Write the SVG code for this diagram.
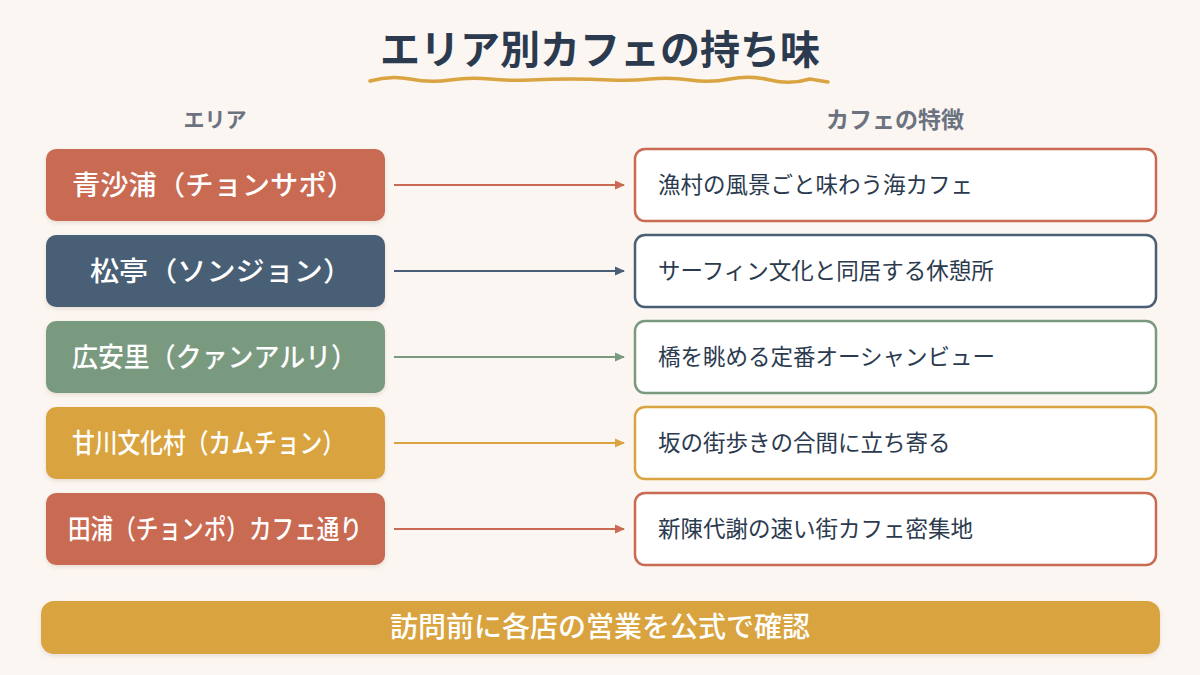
<svg xmlns="http://www.w3.org/2000/svg" width="1200" height="675" viewBox="0 0 1200 675">
<defs>
<style>
.t{font-family:"Noto Sans CJK JP","Noto Sans",sans-serif;}
.title{font-size:40px;font-weight:700;fill:#2B3A4E;}
.hdr{font-weight:700;fill:#6B7280;}
.lt{font-size:27px;font-weight:500;fill:#FFFFFF;}
.rt{font-size:22.5px;font-weight:400;fill:#2B3A4E;}
.ft{font-size:28px;font-weight:500;fill:#FFFFFF;}
.rbox{fill:#FFFFFF;stroke-width:2.5;}
.conn{stroke-width:2;fill:none;}
</style>
<filter id="sh" x="-10%" y="-20%" width="120%" height="150%">
<feDropShadow dx="0" dy="2" stdDeviation="2" flood-color="#8a6a50" flood-opacity="0.18"/>
</filter>
<marker id="aT" markerWidth="10" markerHeight="10" refX="9" refY="5" orient="auto" markerUnits="userSpaceOnUse"><path d="M0,0.5 L10,5 L0,9.5 Z" fill="#C96A52"/></marker>
<marker id="aS" markerWidth="10" markerHeight="10" refX="9" refY="5" orient="auto" markerUnits="userSpaceOnUse"><path d="M0,0.5 L10,5 L0,9.5 Z" fill="#4A5E75"/></marker>
<marker id="aG" markerWidth="10" markerHeight="10" refX="9" refY="5" orient="auto" markerUnits="userSpaceOnUse"><path d="M0,0.5 L10,5 L0,9.5 Z" fill="#7A9A80"/></marker>
<marker id="aM" markerWidth="10" markerHeight="10" refX="9" refY="5" orient="auto" markerUnits="userSpaceOnUse"><path d="M0,0.5 L10,5 L0,9.5 Z" fill="#D9A441"/></marker>
</defs>
<rect width="1200" height="675" fill="#FBF6F1"/>

<g id="title">
<text class="t title" x="600" y="64" text-anchor="middle">エリア別カフェの持ち味</text>
<path d="M370,81 Q390,75 410,79 T450,80 T490,79 T530,80 T570,79 T610,80 T650,79 T690,80 T730,79 T770,80 T810,79 L828,82" fill="none" stroke="#D9A441" stroke-width="3.5" stroke-linecap="round"/>
</g>

<g id="headers">
<text class="t hdr" x="215" y="127" text-anchor="middle" font-size="21">エリア</text>
<text class="t hdr" x="895" y="128" text-anchor="middle" font-size="23">カフェの特徴</text>
</g>

<g id="area1"><rect x="46" y="149" width="339" height="72" rx="10" fill="#C96A52" filter="url(#sh)"/><text class="t lt" x="72" y="195" textLength="283" lengthAdjust="spacingAndGlyphs">青沙浦（チョンサポ）</text></g>
<g id="area2"><rect x="46" y="235" width="339" height="72" rx="10" fill="#4A5E75" filter="url(#sh)"/><text class="t lt" x="90" y="281" textLength="262" lengthAdjust="spacingAndGlyphs">松亭（ソンジョン）</text></g>
<g id="area3"><rect x="46" y="321" width="339" height="72" rx="10" fill="#7A9A80" filter="url(#sh)"/><text class="t lt" x="72" y="367" textLength="285" lengthAdjust="spacingAndGlyphs">広安里（クァンアルリ）</text></g>
<g id="area4"><rect x="46" y="407" width="339" height="72" rx="10" fill="#D9A441" filter="url(#sh)"/><text class="t lt" x="72" y="453" textLength="273" lengthAdjust="spacingAndGlyphs">甘川文化村（カムチョン）</text></g>
<g id="area5"><rect x="46" y="493" width="339" height="72" rx="10" fill="#C96A52" filter="url(#sh)"/><text class="t lt" x="68" y="539" textLength="294" lengthAdjust="spacingAndGlyphs">田浦（チョンポ）カフェ通り</text></g>

<g id="feat1"><rect class="rbox" x="635" y="149" width="521" height="72" rx="10" stroke="#C96A52"/><text class="t rt" x="658" y="193">漁村の風景ごと味わう海カフェ</text></g>
<g id="feat2"><rect class="rbox" x="635" y="235" width="521" height="72" rx="10" stroke="#4A5E75"/><text class="t rt" x="658" y="279">サーフィン文化と同居する休憩所</text></g>
<g id="feat3"><rect class="rbox" x="635" y="321" width="521" height="72" rx="10" stroke="#7A9A80"/><text class="t rt" x="658" y="365">橋を眺める定番オーシャンビュー</text></g>
<g id="feat4"><rect class="rbox" x="635" y="407" width="521" height="72" rx="10" stroke="#D9A441"/><text class="t rt" x="658" y="451">坂の街歩きの合間に立ち寄る</text></g>
<g id="feat5"><rect class="rbox" x="635" y="493" width="521" height="72" rx="10" stroke="#C96A52"/><text class="t rt" x="658" y="537">新陳代謝の速い街カフェ密集地</text></g>

<g id="connectors">
<line class="conn" x1="394" y1="185" x2="624" y2="185" stroke="#C96A52" marker-end="url(#aT)"/>
<line class="conn" x1="394" y1="271" x2="624" y2="271" stroke="#4A5E75" marker-end="url(#aS)"/>
<line class="conn" x1="394" y1="357" x2="624" y2="357" stroke="#7A9A80" marker-end="url(#aG)"/>
<line class="conn" x1="394" y1="443" x2="624" y2="443" stroke="#D9A441" marker-end="url(#aM)"/>
<line class="conn" x1="394" y1="529" x2="624" y2="529" stroke="#C96A52" marker-end="url(#aT)"/>
</g>

<g id="footer"><rect x="41" y="601" width="1119" height="53" rx="13" fill="#D9A441" filter="url(#sh)"/><text class="t ft" x="600" y="637" text-anchor="middle">訪問前に各店の営業を公式で確認</text></g>
</svg>
